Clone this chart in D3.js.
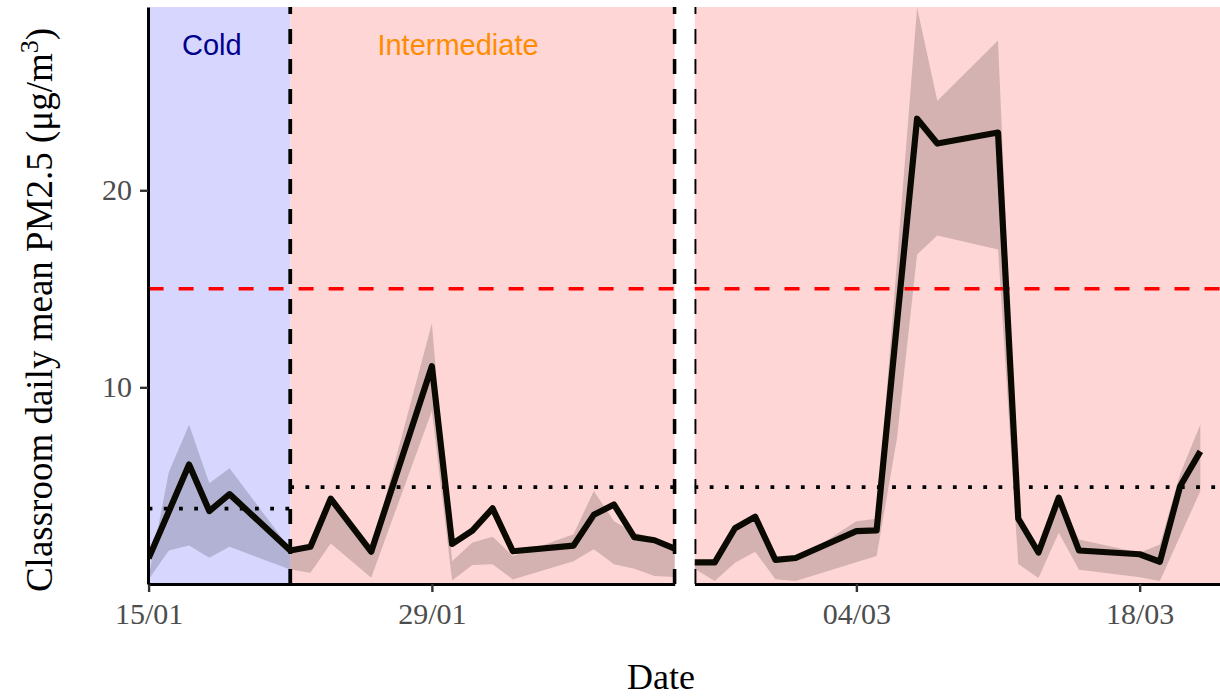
<!DOCTYPE html>
<html><head><meta charset="utf-8">
<script src="https://cdn.jsdelivr.net/npm/d3@7"></script>
<style>body{margin:0;background:#fff}</style>
</head><body><svg id="c" width="1220" height="698" xmlns="http://www.w3.org/2000/svg"></svg>
<script>
// ---- data ----
const leftDates = ["2024-01-15","2024-01-16","2024-01-17","2024-01-18","2024-01-19","2024-01-22","2024-01-23","2024-01-24","2024-01-26","2024-01-29","2024-01-30","2024-01-31","2024-02-01","2024-02-02","2024-02-05","2024-02-06","2024-02-07","2024-02-08","2024-02-09","2024-02-10"];
const leftMean  = [1.32,3.70,6.08,3.72,4.58,1.72,1.91,4.35,1.66,11.07,2.05,2.73,3.86,1.68,1.97,3.53,4.05,2.40,2.24,1.82];
const leftLow   = [0.25,1.72,1.98,1.35,1.91,0.76,0.59,2.08,0.34,8.80,0.20,0.98,1.02,0.25,1.18,1.78,1.02,0.80,0.42,0.37];
const leftHigh  = [0.40,5.70,8.10,5.13,5.89,1.80,2.00,4.48,1.70,13.25,1.18,2.12,2.42,1.44,2.54,4.74,3.21,2.62,2.37,1.95];

const rightDates = ["2024-02-25","2024-02-26","2024-02-27","2024-02-28","2024-02-29","2024-03-01","2024-03-04","2024-03-05","2024-03-06","2024-03-07","2024-03-08","2024-03-11","2024-03-12","2024-03-13","2024-03-14","2024-03-15","2024-03-18","2024-03-19","2024-03-20","2024-03-21"];
const rightMean  = [1.12,1.12,2.85,3.43,1.24,1.34,2.70,2.74,13.2,23.63,22.37,22.93,3.34,1.62,4.40,1.72,1.53,1.15,4.98,6.75];
const rightLow   = [0.80,0.17,1.10,1.66,0.26,0.17,1.13,1.44,7.36,16.74,17.70,17.00,1.04,0.32,2.62,0.74,0.36,0.17,2.45,4.74];
const rightHigh  = [1.14,1.14,2.85,3.43,1.24,1.20,3.21,3.33,16.3,29.27,24.54,27.60,3.50,1.70,4.45,2.28,1.60,2.03,5.60,8.12];

const panelStarts = ["2024-01-15","2024-02-25"];
const panelEnds   = ["2024-02-10","2024-03-22"];
const leftTicks  = ["2024-01-15","2024-01-29"];
const rightTicks = ["2024-03-04","2024-03-18"];
const yTicks = [10, 20];

const periodNames  = ["Cold","Intermediate"];
const periodStarts = ["2024-01-15","2024-01-22"];
const periodEnds   = ["2024-01-22","2024-03-22"];
const periodMeans  = [3.84, 4.94];
const periodLabelDates = ["2024-01-18T03:00","2024-01-30T07:00"];
const boundaryDates = ["2024-01-22","2024-02-10","2024-02-25"];
const threshold = 15;

// ---- styles ----
const periodFill = {"Cold":"#D6D6FF","Intermediate":"#FFD6D6"};
const periodText = {"Cold":"#00008B","Intermediate":"#FF8C00"};

const P = d3.isoParse;
const svg = d3.select("#c");
svg.append("rect").attr("width",1220).attr("height",698).attr("fill","#fff");
const yTop = 7, yBot = 584;
const y = d3.scaleLinear().domain([0.02, 29.3]).range([yBot, yTop]);

const panels = [
  {dates:leftDates, mean:leftMean, lo:leftLow, hi:leftHigh, ticks:leftTicks, range:[148.6,674.7], clip:[148.6,676.6]},
  {dates:rightDates, mean:rightMean, lo:rightLow, hi:rightHigh, ticks:rightTicks, range:[694.5,1220.6], clip:[694.5,1220.6]}
];

const serif = "'Liberation Serif','Times New Roman',serif";
const sans = "'Liberation Sans',Arial,sans-serif";

panels.forEach((p, i) => {
  const x = d3.scaleTime().domain([P(panelStarts[i]), P(panelEnds[i])]).range(p.range);
  const d0 = P(panelStarts[i]), d1 = P(panelEnds[i]);
  const cid = "clip" + i;
  svg.append("clipPath").attr("id", cid).append("rect")
    .attr("x", p.clip[0]).attr("y", yTop).attr("width", p.clip[1]-p.clip[0]).attr("height", yBot-yTop);
  const g = svg.append("g").attr("clip-path", `url(#${cid})`);

  periodNames.forEach((nm, k) => {
    const s = d3.max([P(periodStarts[k]), d0]), e = d3.min([P(periodEnds[k]), d1]);
    if (e <= s) return;
    g.append("rect").attr("x", x(s)).attr("y", yTop).attr("width", x(e)-x(s)).attr("height", yBot-yTop)
      .attr("fill", periodFill[nm]);
  });

  const rows = p.dates.map((d, j) => ({date:P(d), m:p.mean[j], lo:p.lo[j], hi:p.hi[j]}));
  g.append("path").datum(rows)
    .attr("d", d3.area().x(d=>x(d.date)).y0(d=>y(d.lo)).y1(d=>y(d.hi)))
    .attr("fill","#000").attr("fill-opacity",0.17);

  g.append("line").attr("x1", p.range[0]).attr("x2", p.range[1]).attr("y1", y(threshold)).attr("y2", y(threshold))
    .attr("stroke","#FF0000").attr("stroke-width",3.6).attr("stroke-dasharray","15,15");

  periodNames.forEach((nm, k) => {
    const s = d3.max([P(periodStarts[k]), d0]), e = d3.min([P(periodEnds[k]), d1]);
    if (e <= s) return;
    g.append("line").attr("x1", x(s)).attr("x2", x(e)).attr("y1", y(periodMeans[k])).attr("y2", y(periodMeans[k]))
      .attr("stroke","#000").attr("stroke-width",3.8).attr("stroke-dasharray","3.8,11.4");
  });

  boundaryDates.forEach(b => {
    const bd = P(b);
    if (bd < d0 || bd > d1) return;
    g.append("line").attr("x1", x(bd)).attr("x2", x(bd)).attr("y1", yBot).attr("y2", yTop)
      .attr("stroke","#000").attr("stroke-width",3.8).attr("stroke-dasharray","15,15");
  });

  g.append("path").datum(rows)
    .attr("d", d3.line().x(d=>x(d.date)).y(d=>y(d.m)))
    .attr("fill","none").attr("stroke","#0a0a02").attr("stroke-width",6.2)
    .attr("stroke-linejoin","round").attr("stroke-linecap","butt");

  periodNames.forEach((nm, k) => {
    const ld = P(periodLabelDates[k]);
    if (ld < d0 || ld > d1) return;
    svg.append("text").attr("x", x(ld)).attr("y", 55).attr("text-anchor","middle")
      .attr("font-family", sans).attr("font-size", 29).attr("fill", periodText[nm]).text(nm);
  });

  const ax = svg.append("g").attr("transform", `translate(0,${yBot})`)
    .call(d3.axisBottom(x).tickValues(p.ticks.map(P)).tickFormat(d3.timeFormat("%d/%m"))
      .tickSize(8).tickSizeOuter(0).tickPadding(11));
  ax.select(".domain").attr("stroke","#000").attr("stroke-width",3);
  ax.selectAll(".tick line").attr("stroke","#333").attr("stroke-width",2.4);
  ax.selectAll(".tick text").attr("font-family", serif).attr("font-size", 30).attr("fill","#4D4D4D");
});

const ay = svg.append("g").attr("transform", `translate(148,0)`)
  .call(d3.axisLeft(y).tickValues(yTicks).tickSize(8).tickSizeOuter(0).tickPadding(8));
ay.select(".domain").attr("stroke","#000").attr("stroke-width",3);
ay.selectAll(".tick line").attr("stroke","#333").attr("stroke-width",2.4);
ay.selectAll(".tick text").attr("font-family", serif).attr("font-size", 30).attr("fill","#4D4D4D");

svg.append("text").attr("x", 661).attr("y", 689).attr("text-anchor","middle")
  .attr("font-family", serif).attr("font-size", 36).attr("fill","#000").text("Date");

const yt = svg.append("text").attr("transform","translate(52,310) rotate(-90)").attr("text-anchor","middle")
  .attr("font-family", serif).attr("font-size", 37).attr("fill","#000");
yt.append("tspan").text("Classroom daily mean PM2.5 (μg/m");
yt.append("tspan").attr("font-size", 26).attr("dy", -14).text("3");
yt.append("tspan").attr("dy", 14).text(")");
</script>
</body></html>
